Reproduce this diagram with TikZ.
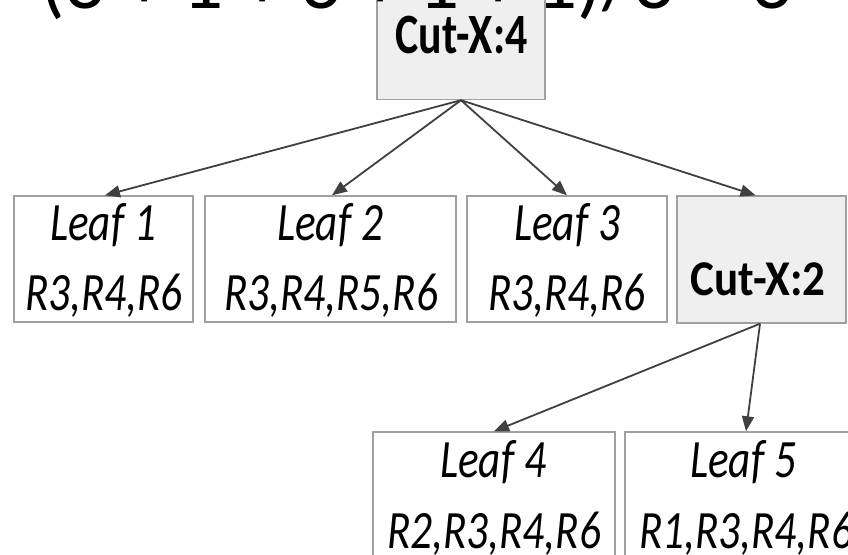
\documentclass[tikz,border=0pt]{standalone}
\usepackage{fontspec}
\setmainfont{Carlito}
\newfontfamily\leaffont[FakeStretch=0.8]{Carlito}
\newfontfamily\cutafont[FakeStretch=0.77]{Carlito}
\newfontfamily\cutbfont[FakeStretch=0.9]{Carlito}
\usetikzlibrary{arrows.meta}
\definecolor{boxline}{HTML}{A0A0A0}
\definecolor{cutfill}{HTML}{EFEFEF}
\definecolor{arrowcol}{HTML}{404040}
\tikzset{
  leafbox/.style={draw=boxline, line width=1.4pt, fill=white, inner sep=0pt, rectangle},
  cutbox/.style={draw=boxline, line width=1.4pt, fill=cutfill, inner sep=0pt, rectangle},
  leaftext/.style={inner sep=0pt, anchor=base, font=\leaffont\itshape\fontsize{54}{60}\selectfont},
  conn/.style={draw=arrowcol, line width=1.8pt, -{Triangle[length=15pt,width=12pt]}},
}
\begin{document}
\begin{tikzpicture}[x=1pt,y=-1pt]
\useasboundingbox (0,0) rectangle (848,554);
\clip (0,0) rectangle (848,554);
\fill[white] (0,0) rectangle (848,554);
% boxes
\node[cutbox, minimum width=168pt, minimum height=120pt] (c4) at (461,39.5) {};
\node[leafbox, minimum width=179pt, minimum height=126pt] (l1) at (103.5,259) {};
\node[leafbox, minimum width=251pt, minimum height=126pt] (l2) at (330.5,259) {};
\node[leafbox, minimum width=200pt, minimum height=126pt] (l3) at (567,259) {};
\node[cutbox, minimum width=169pt, minimum height=127pt] (c2) at (761.5,259.5) {};
\node[leafbox, minimum width=242pt, minimum height=140pt] (l4) at (494,502) {};
\node[leafbox, minimum width=242pt, minimum height=140pt] (l5) at (746,502) {};
% connectors
\draw[conn] (c4.south) -- ([xshift=1.5pt]l1.north);
\draw[conn] (c4.south) -- ([xshift=1.5pt]l2.north);
\draw[conn] (c4.south) -- (l3.north);
\draw[conn] (c4.south) -- ([xshift=-6pt]c2.north);
\draw[conn] ([xshift=-1.5pt]c2.south) -- (l4.north);
\draw[conn] ([xshift=-1.5pt]c2.south) -- (l5.north);
% texts
\node[inner sep=0pt, anchor=base, font=\cutafont\bfseries\fontsize{57}{60}\selectfont] (t4) at (461.5,53) {Cut-X:4};
\node[inner sep=0pt, anchor=base, font=\cutbfont\bfseries\fontsize{50}{60}\selectfont] (t2) at (758,295) {Cut-X:2};
\node[leaftext] (a1) at (103,240) {Leaf 1};
\node[leaftext] (b1) at (104,310) {R3,R4,R6};
\node[leaftext] (a2) at (330,240) {Leaf 2};
\node[leaftext] (b2) at (331,310) {R3,R4,R5,R6};
\node[leaftext] (a3) at (567,240) {Leaf 3};
\node[leaftext] (b3) at (567,310) {R3,R4,R6};
\node[leaftext] (a4) at (493,477) {Leaf 4};
\node[leaftext] (b4) at (494,548) {R2,R3,R4,R6};
\node[leaftext] (a5) at (743,477) {Leaf 5};
\node[leaftext] (b5) at (746,548) {R1,R3,R4,R6};
% big clipped formula on top
\node[inner sep=0pt, anchor=base west, font=\fontsize{81}{90}\selectfont] (f) at (40,9) {(3 + 1 + 3 + 1 + 1)/3 = 3};
\end{tikzpicture}
\end{document}
